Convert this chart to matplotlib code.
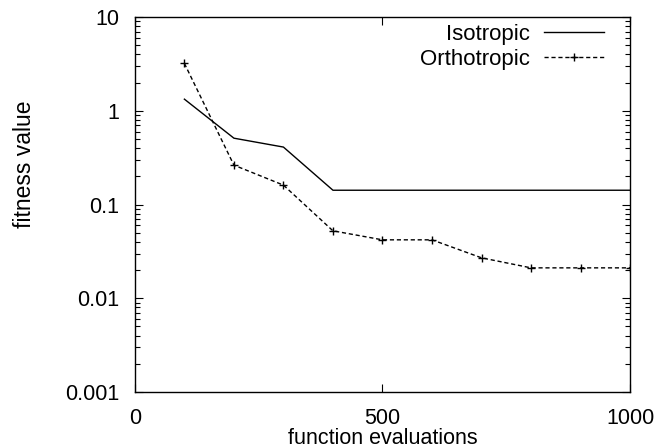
import matplotlib
matplotlib.use("Agg")
import matplotlib.pyplot as plt
from matplotlib.ticker import LogLocator, FixedLocator, NullFormatter, FixedFormatter

plt.rcParams['font.family'] = ['Liberation Sans', 'DejaVu Sans']

evals = [100, 200, 300, 400, 500, 600, 700, 800, 900, 1000]
isotropic = [1.33, 0.51, 0.41, 0.142, 0.142, 0.142, 0.142, 0.142, 0.142, 0.142]
orthotropic = [3.2, 0.263, 0.161, 0.0524, 0.042, 0.042, 0.027, 0.0211, 0.0211, 0.0211]

xticks = [0, 500, 1000]
yticks = [0.001, 0.01, 0.1, 1, 10]
yticklabels = ["0.001", "0.01", "0.1", "1", "10"]

fig = plt.figure(figsize=(6.71, 4.48), dpi=100)
ax = fig.add_axes([0.201, 0.125, 0.738, 0.837])

ax.plot(evals, isotropic, color='black', lw=1.0, label='Isotropic')
ax.plot(evals, orthotropic, color='black', lw=1.0, ls=(0, (3, 2)), marker='+',
        ms=5.5, mew=1.0, label='Orthotropic')

ax.set_yscale('log')
ax.set_xlim(0, 1000)
ax.set_ylim(0.001, 10)
ax.xaxis.set_major_locator(FixedLocator(xticks))
ax.yaxis.set_major_locator(FixedLocator(yticks))
ax.yaxis.set_major_formatter(FixedFormatter(yticklabels))
ax.yaxis.set_minor_locator(LogLocator(base=10, subs=range(2, 10)))
ax.yaxis.set_minor_formatter(NullFormatter())

ax.tick_params(which='both', direction='in', top=True, right=True, labelsize=15.5)
ax.tick_params(which='major', length=6, width=0.8)
ax.tick_params(which='minor', length=3.5, width=0.8)
ax.tick_params(axis='x', pad=11.5)
ax.tick_params(axis='y', pad=11.5)
for s in ax.spines.values():
    s.set_linewidth(1.0)

ax.set_xlabel('function evaluations', fontsize=15.5)
ax.xaxis.set_label_coords(0.5, -0.096)
ax.set_ylabel('fitness value', fontsize=16.5)
ax.yaxis.set_label_coords(-0.2, 0.607)

leg = ax.legend(loc='upper right', bbox_to_anchor=(0.9475, 0.982), frameon=False,
                markerfirst=False, fontsize=16, borderpad=0, borderaxespad=0,
                handlelength=2.7, handletextpad=0.65, labelspacing=0.18)

fig.savefig('out.png', dpi=100)
